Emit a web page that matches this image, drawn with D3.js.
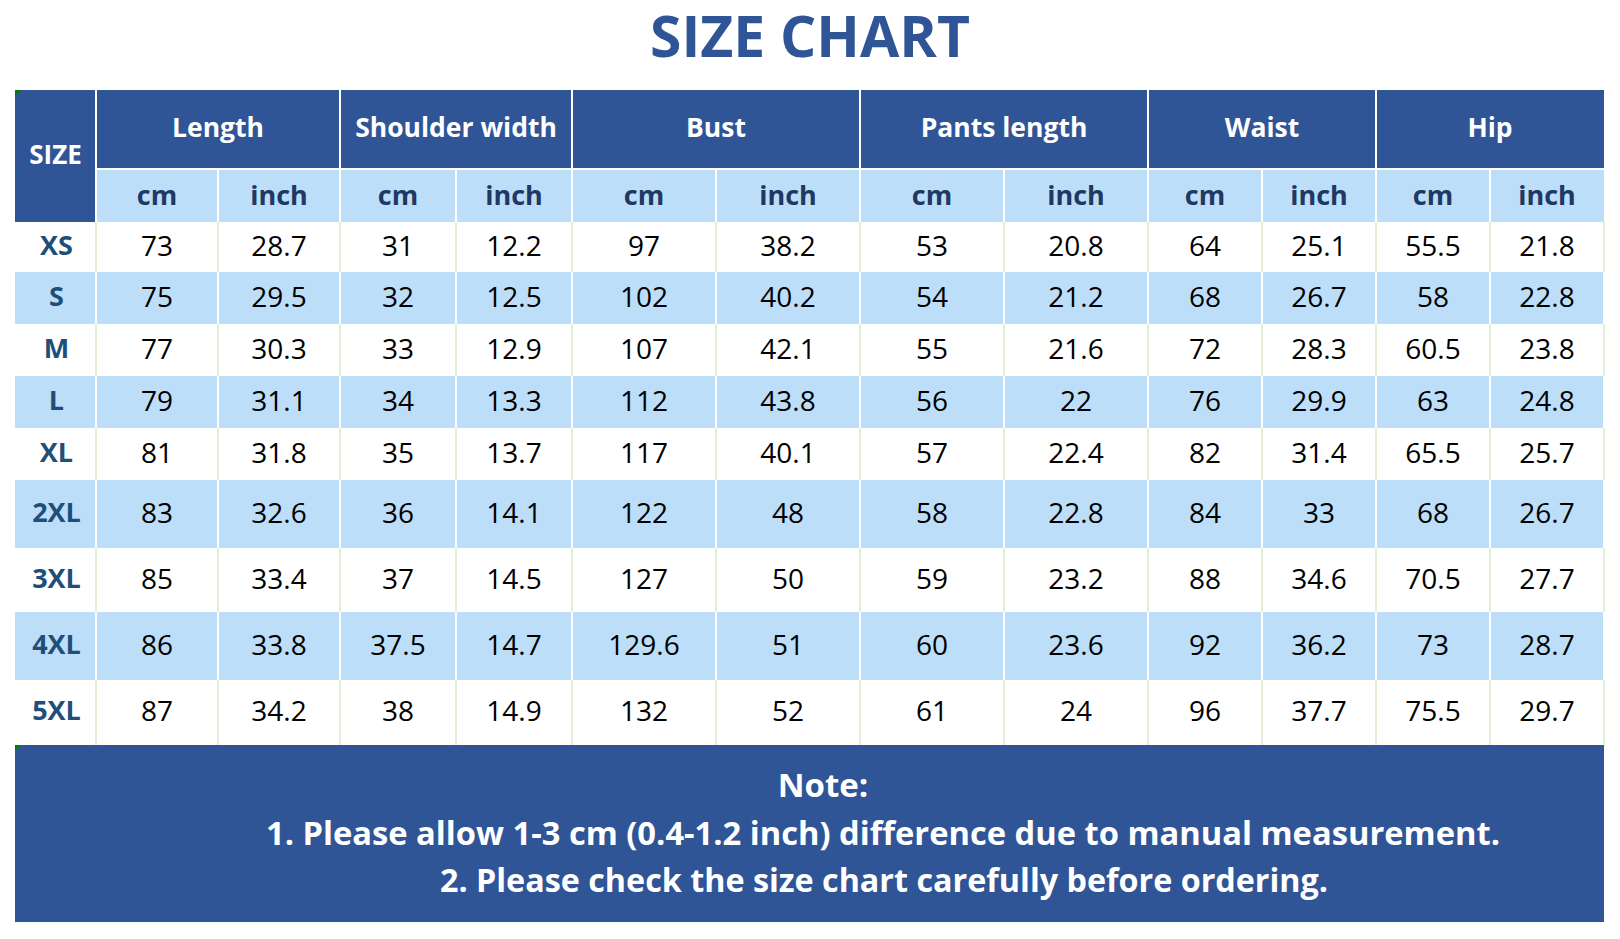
<!DOCTYPE html>
<html>
<head>
<meta charset="utf-8">
<script src="https://cdn.jsdelivr.net/npm/d3@7"></script>
<style>
  html, body { margin: 0; padding: 0; background: #ffffff; }
  svg { display: block; }
  text { font-family: "Open Sans", "Noto Sans", sans-serif; }
</style>
</head>
<body>
<svg id="chart" width="1620" height="939"></svg>
<script>
// ---------------- DATA ----------------
const sizes = ["XS", "S", "M", "L", "XL", "2XL", "3XL", "4XL", "5XL"];
const groups = ["Length", "Shoulder width", "Bust", "Pants length", "Waist", "Hip"];
const units = ["cm", "inch"];

const lengthCm      = ["73", "75", "77", "79", "81", "83", "85", "86", "87"];
const lengthInch    = ["28.7", "29.5", "30.3", "31.1", "31.8", "32.6", "33.4", "33.8", "34.2"];
const shoulderCm    = ["31", "32", "33", "34", "35", "36", "37", "37.5", "38"];
const shoulderInch  = ["12.2", "12.5", "12.9", "13.3", "13.7", "14.1", "14.5", "14.7", "14.9"];
const bustCm        = ["97", "102", "107", "112", "117", "122", "127", "129.6", "132"];
const bustInch      = ["38.2", "40.2", "42.1", "43.8", "40.1", "48", "50", "51", "52"];
const pantsCm       = ["53", "54", "55", "56", "57", "58", "59", "60", "61"];
const pantsInch     = ["20.8", "21.2", "21.6", "22", "22.4", "22.8", "23.2", "23.6", "24"];
const waistCm       = ["64", "68", "72", "76", "82", "84", "88", "92", "96"];
const waistInch     = ["25.1", "26.7", "28.3", "29.9", "31.4", "33", "34.6", "36.2", "37.7"];
const hipCm         = ["55.5", "58", "60.5", "63", "65.5", "68", "70.5", "73", "75.5"];
const hipInch       = ["21.8", "22.8", "23.8", "24.8", "25.7", "26.7", "27.7", "28.7", "29.7"];

const titleText = "SIZE CHART";
const sizeHeader = "SIZE";
const noteLines = [
  "Note:",
  "1. Please allow 1-3 cm (0.4-1.2 inch) difference due to manual measurement.",
  "2. Please check the size chart carefully before ordering."
];

// ---------------- LAYOUT ----------------
const columnSeries = [lengthCm, lengthInch, shoulderCm, shoulderInch, bustCm, bustInch,
                      pantsCm, pantsInch, waistCm, waistInch, hipCm, hipInch];
const colEdges = [15, 96, 218, 340, 456, 572, 716, 860, 1004, 1148, 1262, 1376, 1490, 1604];
const rowEdges = [222, 272, 324, 376, 428, 480, 548, 612, 680, 744];
const head1 = [90, 168], head2 = [170, 222];
const noteBox = [745, 922];

const C = {
  dark: "#2F5597",
  light: "#BDDEF8",
  white: "#FFFFFF",
  gridWhiteRow: "#E2EFDA",
  unitText: "#203864",
  sizeText: "#1F4E79",
  dataText: "#000000"
};

const colKeys = d3.range(colEdges.length - 1);
const xLeft = d3.scaleOrdinal().domain(colKeys).range(colEdges.slice(0, -1));
const xRight = d3.scaleOrdinal().domain(colKeys).range(colEdges.slice(1));
const yTop = d3.scaleOrdinal().domain(sizes).range(rowEdges.slice(0, -1));
const yBot = d3.scaleOrdinal().domain(sizes).range(rowEdges.slice(1));
const xMid = k => (xLeft(k) + xRight(k)) / 2;
const yMid = s => (yTop(s) + yBot(s)) / 2;

const svg = d3.select("#chart");
const tableL = colEdges[0], tableR = colEdges[colEdges.length - 1];

// Title
svg.append("text")
  .attr("x", 810).attr("y", 57)
  .attr("text-anchor", "middle")
  .attr("font-size", 57).attr("font-weight", 700)
  .attr("fill", C.dark)
  .text(titleText);

// ---------- Header rows ----------
svg.append("rect")
  .attr("x", tableL).attr("y", head1[0])
  .attr("width", tableR - tableL).attr("height", head2[1] - head1[0])
  .attr("fill", C.white);

// SIZE cell (spans two header rows)
svg.append("rect")
  .attr("x", xLeft(0)).attr("y", head1[0])
  .attr("width", xRight(0) - xLeft(0) - 1).attr("height", head2[1] - head1[0])
  .attr("fill", C.dark);
svg.append("text")
  .attr("x", xMid(0)).attr("y", 154)
  .attr("text-anchor", "middle").attr("dominant-baseline", "central")
  .attr("font-size", 26).attr("font-weight", 700).attr("fill", C.white)
  .text(sizeHeader);

groups.forEach((g, i) => {
  const k1 = 1 + i * 2, k2 = k1 + 1;
  const x0 = xLeft(k1) + 1, x1 = xRight(k2) - 1;
  svg.append("rect")
    .attr("x", x0).attr("y", head1[0])
    .attr("width", (i === groups.length - 1 ? xRight(k2) : x1) - x0)
    .attr("height", head1[1] - head1[0])
    .attr("fill", C.dark);
  svg.append("text")
    .attr("x", (xLeft(k1) + xRight(k2)) / 2).attr("y", (head1[0] + head1[1]) / 2 - 2)
    .attr("text-anchor", "middle").attr("dominant-baseline", "central")
    .attr("font-size", 26.5).attr("font-weight", 700).attr("fill", C.white)
    .text(g);

  [k1, k2].forEach((k, j) => {
    const a = xLeft(k) + 1, b = (k === colKeys.length - 1) ? xRight(k) : xRight(k) - 1;
    svg.append("rect")
      .attr("x", a).attr("y", head2[0])
      .attr("width", b - a).attr("height", head2[1] - head2[0])
      .attr("fill", C.light);
    svg.append("text")
      .attr("x", xMid(k)).attr("y", (head2[0] + head2[1]) / 2 - 2)
      .attr("text-anchor", "middle").attr("dominant-baseline", "central")
      .attr("font-size", 27).attr("font-weight", 700).attr("fill", C.unitText)
      .text(units[j]);
  });
});

// ---------- Data rows ----------
const rows = svg.append("g");
sizes.forEach((s, r) => {
  const fill = r % 2 === 0 ? C.white : C.light;
  const lineFill = r % 2 === 0 ? C.gridWhiteRow : C.white;
  rows.append("rect")
    .attr("x", tableL).attr("y", yTop(s))
    .attr("width", tableR - tableL).attr("height", yBot(s) - yTop(s))
    .attr("fill", fill);
  colEdges.slice(1).forEach(xe => {
    rows.append("rect")
      .attr("x", xe - 1).attr("y", yTop(s))
      .attr("width", 2).attr("height", yBot(s) - yTop(s) + (r === sizes.length - 1 ? 2 : 0))
      .attr("fill", lineFill);
  });

  const dy = -2.5;
  rows.append("text")
    .attr("x", xMid(0) + 1).attr("y", yMid(s) + dy)
    .attr("text-anchor", "middle").attr("dominant-baseline", "central")
    .attr("font-size", 27).attr("font-weight", 700).attr("fill", C.sizeText)
    .text(s);

  columnSeries.forEach((series, c) => {
    const k = c + 1;
    rows.append("text")
      .attr("x", xMid(k)).attr("y", yMid(s) + dy)
      .attr("text-anchor", "middle").attr("dominant-baseline", "central")
      .attr("font-size", 28).attr("font-weight", 400).attr("fill", C.dataText)
      .text(series[r]);
  });
});

// ---------- Note box ----------
svg.append("rect")
  .attr("x", tableL).attr("y", noteBox[0])
  .attr("width", tableR - tableL).attr("height", noteBox[1] - noteBox[0])
  .attr("fill", C.dark);

const noteX = [823, 883, 884];
const noteY = [797, 845, 892];
const noteSize = [33, 32.7, 32.3];
noteLines.forEach((t, i) => {
  svg.append("text")
    .attr("x", noteX[i]).attr("y", noteY[i])
    .attr("text-anchor", "middle")
    .attr("font-size", noteSize[i]).attr("font-weight", 700).attr("fill", C.white)
    .text(t);
});

// Small green corner markers
[head1[0], noteBox[0]].forEach(y0 => {
  svg.append("path")
    .attr("d", `M${tableL},${y0} l6,0 l-6,6 Z`)
    .attr("fill", "#008000");
});
</script>
</body>
</html>
